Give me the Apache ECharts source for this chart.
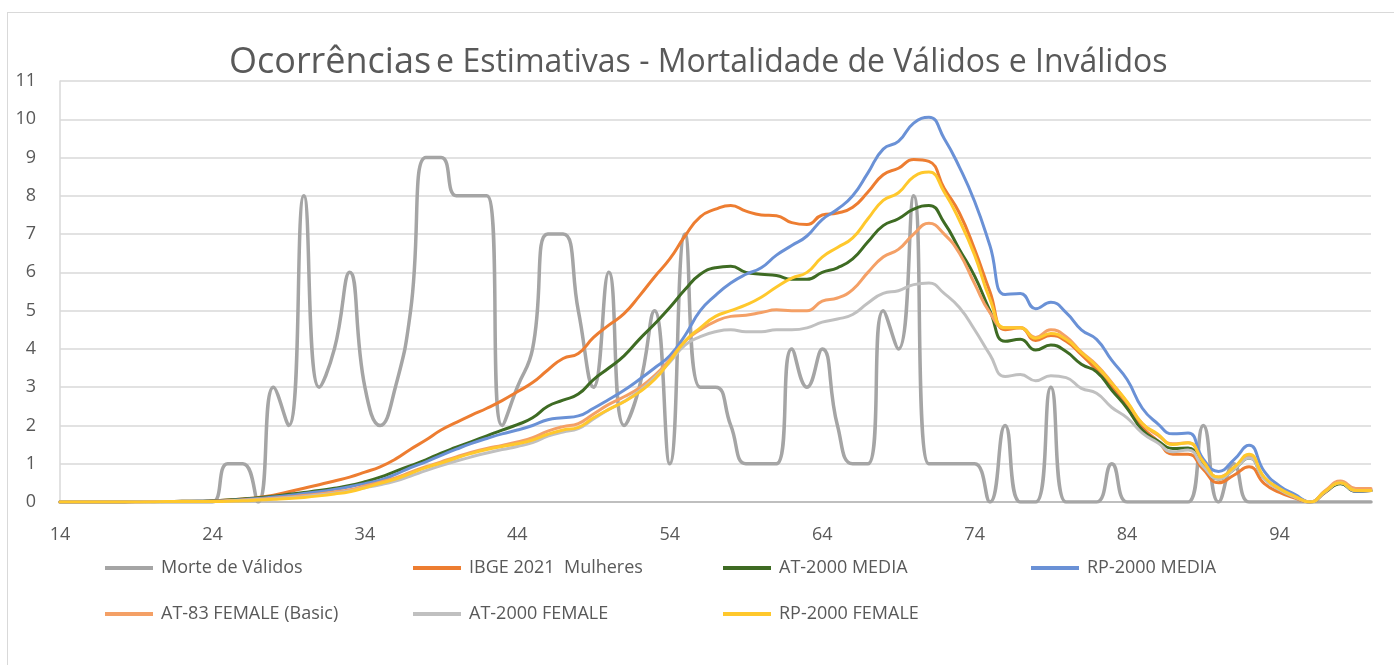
<!DOCTYPE html>
<html>
<head>
<meta charset="utf-8">
<title>Ocorrências e Estimativas</title>
<script src="https://cdn.jsdelivr.net/npm/echarts/dist/echarts.min.js"></script>
<style>
  html, body { margin: 0; padding: 0; background: #fff; }
  #chart { position: absolute; left: 0; top: 0; width: 1394px; height: 665px; }
  .frame { position: absolute; left: 7px; top: 12px; width: 1400px; height: 700px; border: 1px solid #d9d9d9; }
</style>
</head>
<body>
<div class="frame"></div>
<div id="chart"></div>
<script>
// ages 14..100
const ages = Array.from({ length: 87 }, (_, i) => String(14 + i));

const morteValidos = [
  0, 0, 0, 0, 0, 0, 0, 0, 0, 0,
  0, 1, 1, 0, 3, 2, 8, 3, 4, 6,
  3, 2, 3, 5, 9, 9, 8, 8, 8, 2,
  3, 4, 7, 7, 5, 3, 6, 2, 3, 5,
  1, 7, 3, 3, 2, 1, 1, 1, 4, 3,
  4, 2, 1, 1, 5, 4, 8, 1, 1, 1,
  1, 0, 2, 0, 0, 3, 0, 0, 0, 1,
  0, 0, 0, 0, 0, 2, 0, 1, 0, 0,
  0, 0, 0, 0, 0, 0, 0
];

const ibge2021 = [
  0, 0, 0, 0, 0, 0.01, 0.01, 0.01, 0.02, 0.02,
  0.03, 0.05, 0.08, 0.12, 0.18, 0.27, 0.36, 0.45, 0.55, 0.65,
  0.78, 0.92, 1.12, 1.38, 1.62, 1.88, 2.08, 2.27, 2.45, 2.65,
  2.88, 3.12, 3.45, 3.75, 3.88, 4.3, 4.62, 4.92, 5.38, 5.88,
  6.35, 6.95, 7.45, 7.65, 7.75, 7.6, 7.5, 7.48, 7.3, 7.25,
  7.5, 7.55, 7.7, 8.1, 8.55, 8.72, 8.95, 8.9, 8.2, 7.55,
  6.6, 5.5, 4.5, 4.55, 4.22, 4.35, 4.2, 3.85, 3.45, 3.0,
  2.5, 1.95, 1.6, 1.25, 1.25, 0.85, 0.5, 0.7, 0.92, 0.48,
  0.25, 0.1, 0, 0.25, 0.5, 0.28, 0.3
];

const at2000Media = [
  0, 0, 0, 0, 0, 0.01, 0.01, 0.01, 0.02, 0.02,
  0.03, 0.05, 0.08, 0.11, 0.15, 0.2, 0.25, 0.3, 0.36, 0.43,
  0.53, 0.65, 0.8, 0.95, 1.1, 1.28, 1.43, 1.58, 1.73, 1.88,
  2.02, 2.2, 2.5, 2.66, 2.82, 3.2, 3.5, 3.82, 4.25, 4.65,
  5.08, 5.55, 5.95, 6.12, 6.16, 6.0, 5.95, 5.92, 5.82, 5.82,
  6.0, 6.12, 6.35, 6.8, 7.22, 7.4, 7.65, 7.75, 7.3, 6.6,
  5.9, 5.0, 4.2, 4.25, 3.97, 4.1, 3.93, 3.6, 3.4, 2.92,
  2.45, 1.88, 1.6, 1.4, 1.41, 0.95, 0.6, 0.85, 1.15, 0.62,
  0.33, 0.14, 0, 0.26, 0.48, 0.28, 0.3
];

const rp2000Media = [
  0, 0, 0, 0, 0, 0.01, 0.01, 0.01, 0.01, 0.02,
  0.02, 0.04, 0.06, 0.09, 0.13, 0.17, 0.22, 0.27, 0.33, 0.4,
  0.48, 0.57, 0.72, 0.9, 1.05, 1.22, 1.38, 1.53, 1.66, 1.78,
  1.88, 2.0, 2.15, 2.2, 2.25, 2.45, 2.68, 2.92, 3.2, 3.5,
  3.82, 4.35, 5.0, 5.4, 5.72, 5.95, 6.12, 6.45, 6.7, 6.95,
  7.38, 7.65, 8.0, 8.6, 9.22, 9.42, 9.9, 10.05, 9.5, 8.75,
  7.85, 6.7, 5.42, 5.45, 5.05, 5.22, 4.95, 4.5, 4.25, 3.7,
  3.2, 2.45, 2.05, 1.78, 1.8, 1.12, 0.8, 1.1, 1.48, 0.8,
  0.42, 0.2, 0, 0.27, 0.5, 0.28, 0.3
];

const at83Female = [
  0, 0, 0, 0, 0, 0, 0.01, 0.01, 0.01, 0.01,
  0.02, 0.03, 0.05, 0.07, 0.1, 0.13, 0.17, 0.21, 0.26, 0.32,
  0.42, 0.52, 0.63, 0.78, 0.92, 1.05, 1.18, 1.3, 1.4, 1.48,
  1.57, 1.68, 1.85, 1.97, 2.05, 2.3, 2.55, 2.75, 2.98, 3.3,
  3.72, 4.2, 4.5, 4.72, 4.85, 4.88, 4.95, 5.02, 5.0, 5.0,
  5.25, 5.33, 5.55, 6.0, 6.4, 6.6, 7.0, 7.28, 7.0, 6.5,
  5.7, 4.95, 4.55, 4.55, 4.3, 4.5, 4.32, 3.92, 3.58, 3.12,
  2.6, 2.05, 1.75, 1.52, 1.55, 1.05, 0.65, 0.88, 1.2, 0.62,
  0.33, 0.13, 0, 0.3, 0.55, 0.35, 0.35
];

const at2000Female = [
  0, 0, 0, 0, 0, 0, 0, 0.01, 0.01, 0.01,
  0.01, 0.02, 0.04, 0.06, 0.08, 0.11, 0.14, 0.18, 0.23, 0.29,
  0.37, 0.45, 0.55, 0.68, 0.82, 0.95, 1.07, 1.18, 1.28, 1.37,
  1.45, 1.55, 1.72, 1.83, 1.92, 2.17, 2.42, 2.63, 2.9, 3.25,
  3.65, 4.1, 4.32, 4.45, 4.5, 4.45, 4.45, 4.5, 4.5, 4.55,
  4.7, 4.78, 4.9, 5.2, 5.45, 5.52, 5.68, 5.72, 5.45, 5.08,
  4.5, 3.85, 3.28, 3.33, 3.17, 3.3, 3.25, 2.97, 2.84, 2.47,
  2.2, 1.8, 1.55, 1.31, 1.36, 0.92, 0.6, 0.85, 1.15, 0.6,
  0.32, 0.13, 0, 0.27, 0.5, 0.3, 0.3
];

const rp2000Female = [
  0, 0, 0, 0, 0, 0, 0, 0.01, 0.01, 0.01,
  0.01, 0.02, 0.03, 0.05, 0.07, 0.09, 0.12, 0.16, 0.21, 0.27,
  0.37, 0.49, 0.6, 0.75, 0.9, 1.02, 1.15, 1.27, 1.37, 1.45,
  1.52, 1.62, 1.77, 1.88, 1.95, 2.2, 2.42, 2.62, 2.87, 3.2,
  3.68, 4.2, 4.55, 4.85, 5.0, 5.15, 5.35, 5.62, 5.85, 6.0,
  6.4, 6.65, 6.9, 7.4, 7.88, 8.08, 8.5, 8.62, 8.1, 7.36,
  6.45, 5.3, 4.55, 4.55, 4.28, 4.4, 4.25, 3.9, 3.55, 3.1,
  2.62, 2.05, 1.78, 1.5, 1.55, 1.05, 0.65, 0.9, 1.25, 0.65,
  0.35, 0.15, 0, 0.28, 0.5, 0.3, 0.3
];

const seriesNames = [
  "Morte de Válidos", "IBGE 2021  Mulheres", "AT-2000 MEDIA", "RP-2000 MEDIA",
  "AT-83 FEMALE (Basic)", "AT-2000 FEMALE", "RP-2000 FEMALE"
];
const seriesData = [morteValidos, ibge2021, at2000Media, rp2000Media, at83Female, at2000Female, rp2000Female];
const seriesColors = ["#a5a5a5", "#ed7d31", "#3e6b23", "#6a91d6", "#f4a066", "#c0c0c0", "#ffc82c"];
const seriesWidths = [3.5, 3, 3, 3, 3, 3, 3];

const font = "'Open Sans', 'DejaVu Sans', sans-serif";
const textColor = "#595959";

const chart = echarts.init(document.getElementById("chart"));

// legend: 4 columns, 2 rows, one component per entry
const legendCols = [100, 408, 718, 1026];
const legends = seriesNames.map((name, i) => ({
  data: [name],
  left: legendCols[i % 4],
  top: i < 4 ? 554 : 600,
  icon: "rect",
  itemWidth: 48,
  itemHeight: 4,
  textStyle: { color: textColor, fontSize: 18, fontFamily: font, padding: [0, 0, 0, 3] }
}));

chart.setOption({
  animation: false,
  title: {
    text: "{big|Ocorrências} {small|e Estimativas - Mortalidade de Válidos e Inválidos}",
    left: 224,
    top: 40,
    textStyle: {
      rich: {
        big: { fontSize: 36, color: textColor, fontFamily: font, fontWeight: "normal" },
        small: { fontSize: 32, color: textColor, fontFamily: font, fontWeight: "normal" }
      }
    }
  },
  grid: { left: 60, right: 23, top: 81, bottom: 163 },
  legend: legends,
  xAxis: {
    type: "category",
    data: ages,
    boundaryGap: false,
    axisTick: { show: false },
    axisLine: { lineStyle: { color: "#bfbfbf", width: 2 } },
    axisLabel: { interval: 9, color: textColor, fontSize: 18, fontFamily: font, margin: 24 },
    splitLine: { show: false }
  },
  yAxis: {
    type: "value",
    min: 0,
    max: 11,
    interval: 1,
    axisLine: { show: true, lineStyle: { color: "#d9d9d9", width: 1.5 } },
    axisTick: { show: false },
    axisLabel: { color: textColor, fontSize: 18, fontFamily: font, margin: 24 },
    splitLine: { lineStyle: { color: "#d9d9d9", width: 1.5 } }
  },
  series: seriesNames.map((name, i) => ({
    name: name,
    type: "line",
    data: seriesData[i],
    smooth: 0.5,
    showSymbol: false,
    symbol: "none",
    color: seriesColors[i],
    lineStyle: { color: seriesColors[i], width: seriesWidths[i], cap: "round", join: "round" }
  }))
});
</script>
</body>
</html>
